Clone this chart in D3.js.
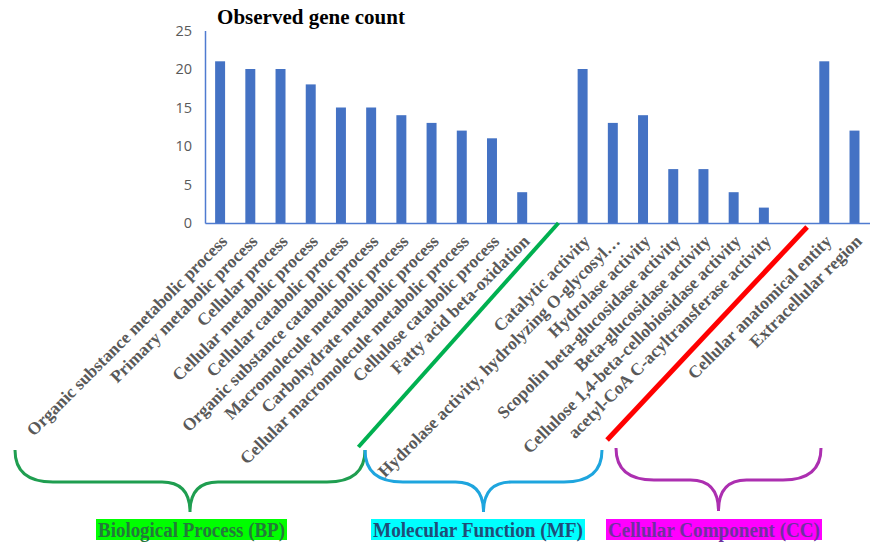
<!DOCTYPE html>
<html><head><meta charset="utf-8">
<script src="https://cdn.jsdelivr.net/npm/d3@7"></script>
<style>body{margin:0;background:#fff;}svg{display:block;}</style>
</head><body>
<svg id="chart" width="870" height="544"></svg>
<script>
const bpLabels = ["Organic substance metabolic process","Primary metabolic process","Cellular process","Cellular metabolic process","Cellular catabolic process","Organic substance catabolic process","Macromolecule metabolic process","Carbohydrate metabolic process","Cellular macromolecule metabolic process","Cellulose catabolic process","Fatty acid beta-oxidation"];
const bpValues = [21,20,20,18,15,15,14,13,12,11,4];
const mfLabels = ["Catalytic activity","Hydrolase activity, hydrolyzing O-glycosyl…","Hydrolase activity","Scopolin beta-glucosidase activity","Beta-glucosidase activity","Cellulose 1,4-beta-cellobiosidase activity","acetyl-CoA C-acyltransferase activity"];
const mfValues = [20,13,14,7,7,4,2];
const ccLabels = ["Cellular anatomical entity","Extracellular region"];
const ccValues = [21,12];
const yTicks = [0,5,10,15,20,25];
const groupNames = ["Biological Process (BP)","Molecular Function (MF)","Cellular Component (CC)"];

const svg = d3.select("#chart");
const gap1 = "__gap1", gap2 = "__gap2";
const domain = [...bpLabels, gap1, ...mfLabels, gap2, ...ccLabels];
const bars = [
  ...bpLabels.map((l,i)=>({label:l,value:bpValues[i]})),
  ...mfLabels.map((l,i)=>({label:l,value:mfValues[i]})),
  ...ccLabels.map((l,i)=>({label:l,value:ccValues[i]}))
];

const x = d3.scaleBand().domain(domain).range([205, 869.6]).paddingInner(0.67).paddingOuter(0.335);
const y = d3.scaleLinear().domain([0,25]).range([223, 30.5]);
const cx = k => x(k) + x.bandwidth()/2;

// title
svg.append("text").attr("x", 311).attr("y", 24).attr("text-anchor","middle")
  .attr("font-family","'Liberation Serif','Times New Roman',serif").attr("font-weight","bold")
  .attr("font-size",21).attr("fill","#000").text("Observed gene count");

// y axis
const yAxis = svg.append("g").attr("transform","translate(205,0)")
  .call(d3.axisLeft(y).tickValues(yTicks).tickSize(0).tickPadding(13));
yAxis.select(".domain").attr("stroke","#4f7bd0").attr("stroke-width",1.5);
yAxis.selectAll("text").attr("font-family","'Open Sans','Liberation Sans',sans-serif")
  .attr("font-size",14.5).attr("fill","#595959");

// bars
svg.append("g").selectAll("rect").data(bars).join("rect")
  .attr("x", d=>x(d.label)).attr("width", x.bandwidth())
  .attr("y", d=>y(d.value)).attr("height", d=>y(0)-y(d.value))
  .attr("fill","#4472C4");

// x axis
const xAxis = svg.append("g").attr("transform","translate(0,223)")
  .call(d3.axisBottom(x).tickSize(0).tickSizeOuter(0).tickFormat(""));
xAxis.select(".domain").attr("stroke","#4f7bd0").attr("stroke-width",1.5);

// x labels
svg.append("g").selectAll("text").data(bars).join("text")
  .attr("transform", d=>`translate(${cx(d.label)+4},238) rotate(-45)`)
  .attr("text-anchor","end").attr("dy","0.35em")
  .attr("font-family","'Liberation Serif','Times New Roman',serif").attr("font-weight","bold")
  .attr("font-size",17.5).attr("fill","#595959").text(d=>d.label);

// separators
const g1 = cx(gap1), g2 = cx(gap2);
svg.append("line").attr("x1",g1+6).attr("y1",223).attr("x2",g1-194).attr("y2",447)
  .attr("stroke","#00B050").attr("stroke-width",4);
svg.append("line").attr("x1",g2+13).attr("y1",227).attr("x2",g2-187).attr("y2",440)
  .attr("stroke","#FF0000").attr("stroke-width",5);

// braces
function brace(x0,x1,yt,ym,tip,color){
  const xm = (x0+x1)/2;
  const p = `M${x0},${yt} Q${x0},${ym} ${x0+38},${ym} L${xm-28},${ym} Q${xm},${ym} ${xm},${tip}`+
            ` M${x1},${yt} Q${x1},${ym} ${x1-38},${ym} L${xm+28},${ym} Q${xm},${ym} ${xm},${tip}`;
  svg.append("path").attr("d",p).attr("fill","none").attr("stroke",color).attr("stroke-width",3);
}
const braces = [
  {x0:15,x1:365,yt:450,ym:482,tip:512,color:"#1f9e50"},
  {x0:365,x1:602,yt:450,ym:482,tip:512,color:"#1ea5de"},
  {x0:616,x1:821,yt:448,ym:480,tip:511,color:"#ac2fb0"}
];
braces.forEach(b=>brace(b.x0,b.x1,b.yt,b.ym,b.tip,b.color));

// group labels
const boxes = [
  {x0:96,x1:287,bg:"#00ff00",fg:"#237a3a"},
  {x0:371,x1:585,bg:"#00ffff",fg:"#1f4e79"},
  {x0:606,x1:822,bg:"#ff00ff",fg:"#7030a0"}
];
boxes.forEach((b,i)=>{
  svg.append("rect").attr("x",b.x0).attr("y",519).attr("width",b.x1-b.x0).attr("height",21).attr("fill",b.bg);
  svg.append("text").attr("x",(b.x0+b.x1)/2).attr("y",537).attr("text-anchor","middle")
    .attr("font-family","'Liberation Serif','Times New Roman',serif").attr("font-weight","bold")
    .attr("font-size",20).attr("fill",b.fg)
    .attr("textLength",b.x1-b.x0-4).attr("lengthAdjust","spacingAndGlyphs").text(groupNames[i]);
});
</script>
</body></html>
